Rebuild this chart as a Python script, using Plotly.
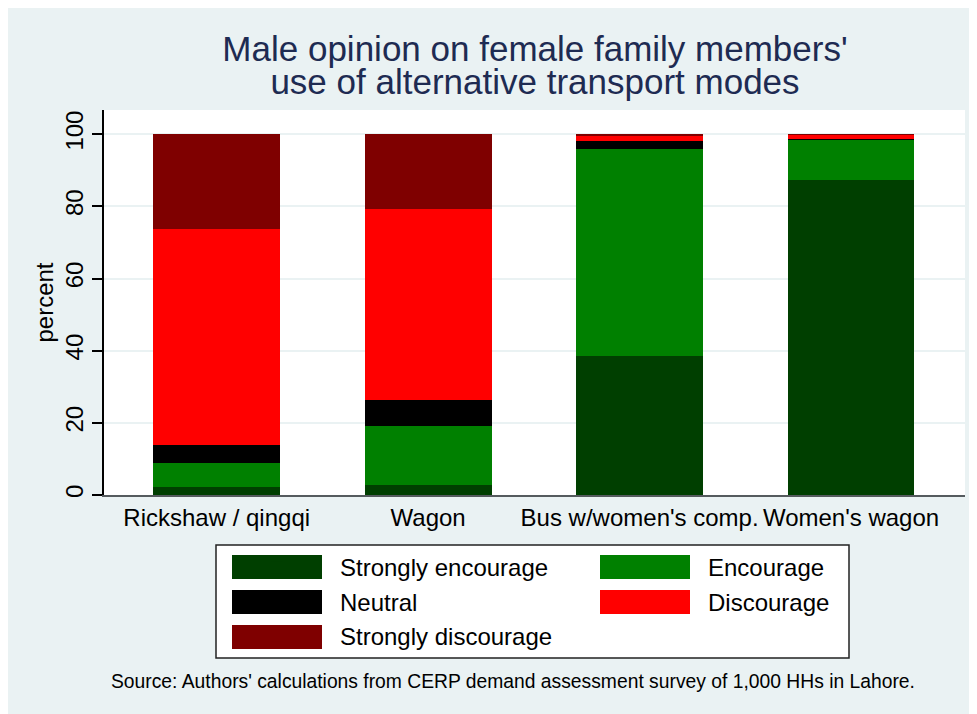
import plotly.graph_objects as go

categories = ["Rickshaw / qingqi", "Wagon", "Bus w/women's comp.", "Women's wagon"]
series_names = ["Strongly encourage", "Encourage", "Neutral", "Discourage", "Strongly discourage"]
strongly_encourage = [2.3, 2.8, 38.6, 87.3]
encourage = [6.5, 16.4, 57.3, 11.2]
neutral = [5.0, 7.1, 2.2, 0.2]
discourage = [59.9, 52.9, 1.3, 1.1]
strongly_discourage = [26.3, 20.8, 0.6, 0.2]
series_values = [strongly_encourage, encourage, neutral, discourage, strongly_discourage]
series_colors = ["#003f00", "#008000", "#000000", "#ff0000", "#7f0000"]
y_ticks = [0, 20, 40, 60, 80, 100]

OFF = 8  # page body margin
W, H = 977 - OFF, 714 - OFF
L, T = 104 - OFF, 110 - OFF
R = W - (965 - OFF)
B = H - (495 - OFF)
PW, PH = W - L - R, H - T - B
BG = "#eaf2f3"


def px(x):
    """page pixel x -> paper x"""
    return (x - OFF - L) / PW


def py(y):
    """page pixel y -> paper y"""
    return (H - B - (y - OFF)) / PH


fig = go.Figure()
legend_of = ["legend", "legend2", "legend", "legend2", "legend"]
for name, vals, col, lg in zip(series_names, series_values, series_colors, legend_of):
    fig.add_trace(go.Bar(
        x=categories, y=vals, name=name, legend=lg,
        marker=dict(color=col, line=dict(width=0)),
    ))

# legend box and swatches (decoration behind the native legend symbols)
shapes = [dict(type="rect", xref="paper", yref="paper",
               x0=px(216), x1=px(849), y0=py(658), y1=py(545),
               fillcolor="white", line=dict(color="#222", width=1.5), layer="above")]
sw_cols = {"legend": 232, "legend2": 600}
row_idx = {"legend": 0, "legend2": 0}
for name, col, lg in zip(series_names, series_colors, legend_of):
    r = row_idx[lg]
    row_idx[lg] += 1
    cy = 567 + 35 * r
    x0 = sw_cols[lg]
    shapes.append(dict(type="rect", xref="paper", yref="paper",
                       x0=px(x0), x1=px(x0 + 90), y0=py(cy + 12), y1=py(cy - 12),
                       fillcolor=col, line=dict(width=0), layer="above"))

FONT = "Liberation Sans, Arial, sans-serif"

fig.update_layout(
    width=W, height=H,
    margin=dict(l=L, r=R, t=T, b=B, autoexpand=False),
    paper_bgcolor=BG, plot_bgcolor="white",
    barmode="stack", bargap=0.4,
    font=dict(family=FONT, color="black", size=24),
    title=dict(
        text="<span style='font-size:35px'>Male opinion on female family members'</span><br>"
             "<span style='font-size:35px'>use of alternative transport modes</span>",
        font=dict(family=FONT, size=25.4, color="#1e2b52"),
        x=px(535), xanchor="center", xref="paper",
        y=1 - (61 - OFF) / H, yanchor="middle", yref="container",
    ),
    xaxis=dict(
        type="category", range=[-0.533, 3.539], tickangle=0,
        showline=True, linecolor="#555b5e", linewidth=2,
        ticks="", showgrid=False, tickfont=dict(size=24, color="black"),
        fixedrange=True,
    ),
    yaxis=dict(
        range=[0, 106.7], tickvals=y_ticks, ticktext=[str(v) for v in y_ticks],
        tickangle=-90, ticks="outside", ticklen=10, tickwidth=1.5, tickcolor="black",
        showline=True, linecolor="black", linewidth=1.5,
        showgrid=True, gridcolor=BG, gridwidth=2, zeroline=False,
        tickfont=dict(size=24, color="black"),
        title=dict(text="percent", font=dict(size=24, color="black"), standoff=0),
    ),
    legend=dict(
        x=px(214), xanchor="left", y=py(545), yanchor="top",
        orientation="v", traceorder="normal", itemwidth=116,
        bgcolor="rgba(0,0,0,0)", borderwidth=0, font=dict(size=24, color="black"),
        itemclick=False, itemdoubleclick=False,
    ),
    legend2=dict(
        x=px(582), xanchor="left", y=py(545), yanchor="top",
        orientation="v", traceorder="normal", itemwidth=116,
        bgcolor="rgba(0,0,0,0)", borderwidth=0, font=dict(size=24, color="black"),
        itemclick=False, itemdoubleclick=False,
    ),
    shapes=shapes,
    annotations=[dict(
        text="Source: Authors' calculations from CERP demand assessment survey of 1,000 HHs in Lahore.",
        xref="paper", yref="paper", x=px(109), y=py(681), xanchor="left", yanchor="middle",
        showarrow=False, font=dict(size=19.3, color="black", family=FONT),
    )],
)

fig.write_html("out.html")
